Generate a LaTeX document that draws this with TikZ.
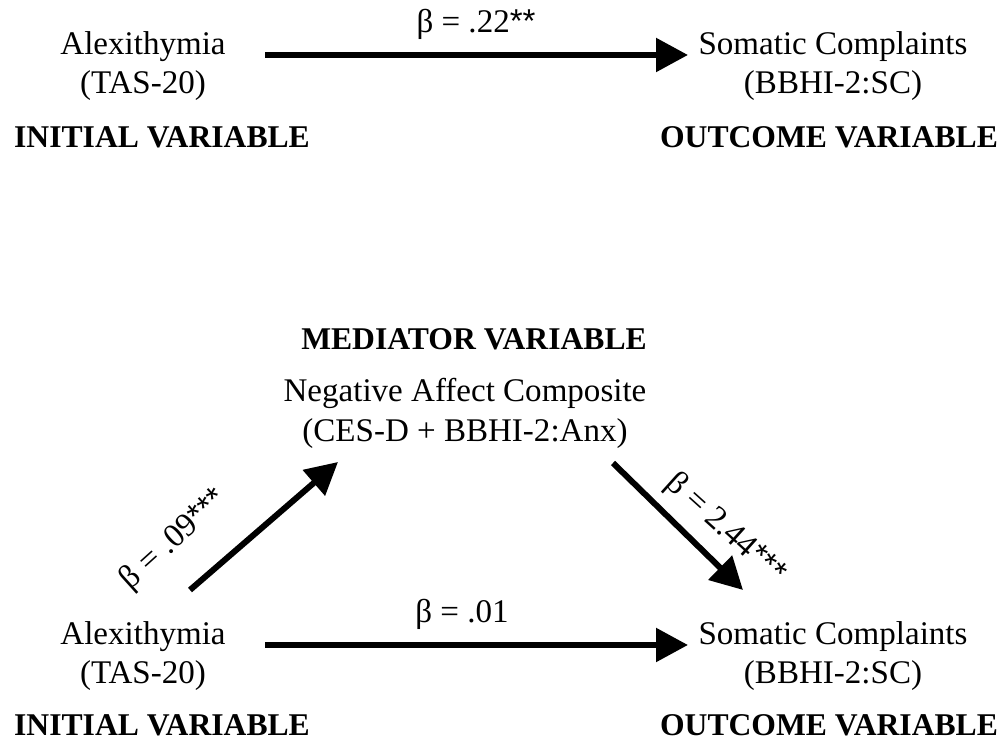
\documentclass[tikz,border=0pt]{standalone}
\usepackage{fontspec}
\setmainfont{Liberation Serif}
\newfontfamily\starfont{Liberation Sans}
\usetikzlibrary{arrows.meta,calc}
\newcommand{\stars}[1]{{\starfont #1}}

\begin{document}
\begin{tikzpicture}[x=0.025cm, y=0.025cm, font=\fontsize{23.5}{28.3}\selectfont,
  var/.style={align=center, inner sep=0pt},
  role/.style={font=\fontsize{22.5}{26}\selectfont\bfseries, inner sep=0pt, anchor=base},
  effect/.style={line width=0.15cm, -{Triangle[length=0.8cm, width=0.82cm]}},
  coef/.style={inner sep=0pt, anchor=base}]

\useasboundingbox (0,0) rectangle (1003,740);

% total effect
\node[var] (alexA) at (143,674) {Alexithymia\\(TAS-20)};
\node[var] (somA) at (833,674) {Somatic Complaints\\(BBHI-2:SC)};
\node[role] (initA) at (162,592) {INITIAL VARIABLE};
\node[role] (outA) at (829,592) {OUTCOME VARIABLE};

\draw[effect] ($(alexA)+(122,11)$) -- ($(somA)+(-145,11)$);
\node[coef] (cA) at (476,707) {β = .22\stars{**}};

% mediated model
\node[role] (medLbl) at (474,390) {MEDIATOR VARIABLE};
\node[var] (negB) at (465,327) {Negative Affect Composite\\(CES-D + BBHI-2:Anx)};

\node[var] (alexB) at (143,84) {Alexithymia\\(TAS-20)};
\node[var] (somB) at (833,84) {Somatic Complaints\\(BBHI-2:SC)};
\node[role] (initB) at (162,4) {INITIAL VARIABLE};
\node[role] (outB) at (829,4) {OUTCOME VARIABLE};

\draw[effect] ($(alexB)+(47,66)$) -- ($(negB)+(-127,-49)$);
\draw[effect] ($(negB)+(148,-50)$) -- ($(somB)+(-90,66)$);
\draw[effect] ($(alexB)+(122,11)$) -- ($(somB)+(-145,11)$);

\node[coef, anchor=center, rotate=42] (cB1) at (174,200) {β = .09\stars{***}};
\node[coef, anchor=center, rotate=-42] (cB2) at (725,211) {β = 2.44\stars{***}};
\node[coef] (cB3) at (462,117) {β = .01};

\end{tikzpicture}
\end{document}
